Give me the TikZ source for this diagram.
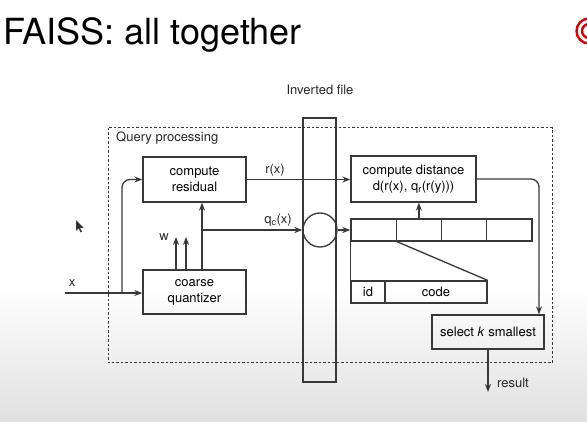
\documentclass[tikz,border=0pt]{standalone}
\usepackage{fontspec}
\setmainfont{TeX Gyre Heros}
\usetikzlibrary{arrows.meta}
\begin{document}
\begin{tikzpicture}
    [x=1pt,y=-1pt,
     line/.style={draw=black!78,line width=1.3pt},
     arr/.style={line,-{Stealth[length=8pt,width=6pt]}},
     box/.style={line,inner sep=0pt,align=center,
                 font=\fontsize{13}{16}\selectfont},
     cell/.style={line,minimum width=45.25pt,minimum height=22pt,inner sep=0pt},
     lbl/.style={inner sep=0pt,text=black!85,font=\fontsize{13}{16}\selectfont}]
    %page and background
    \clip (0,0) rectangle (587,422);
    \fill[white] (0,0) rectangle (587,422);
    \shade[top color=white,bottom color=black!12] (0,285) rectangle (587,422);

    %title and logo
    \node[anchor=base west,inner sep=0pt,font=\fontsize{36}{40}\selectfont] (title)
        at (3,45) {FAISS: all together};
    \draw[red!85!black,line width=2.4pt] (589,31) circle(12.5) circle(7);

    %mouse pointer
    \fill[black!80] (76,220) -- (76,231) -- (78.6,228.4) -- (80.6,232.4) -- (82,231.7)
        -- (80,227.8) -- (83.6,227.8) -- cycle;

    %query processing frame
    \draw[line,line width=1pt,dash pattern=on 2.5pt off 2pt] (108,128) rectangle (552,363);
    \node[lbl,anchor=west] (qp) at (116,138) {Query processing};

    %inverted file
    \node[line,minimum width=33pt,minimum height=264pt,inner sep=0pt] (inv) at (319.5,250) {};
    \node[lbl] (invlbl) at (320,90) {Inverted file};
    \node[line,circle,minimum size=34pt,inner sep=0pt] (circ) at (320,230) {};

    %boxes
    \node[box,minimum width=103pt,minimum height=45pt] (res) at (194.5,179.5) {compute\\residual};
    \node[box,minimum width=103pt,minimum height=44pt] (cq) at (194.5,292) {coarse\\quantizer};
    \node[box,minimum width=125pt,minimum height=46pt] (dist) at (413.5,179)
        {compute distance\\d(r(x), q\textsubscript{r}(r(y)))};
    \node[box,minimum width=112pt,minimum height=34pt] (sel) at (488,332)
        {select \textit{k} smallest};

    %inverted list and one entry
    \foreach \i in {1,...,4}
        \node[cell] (c\i) at ({351+45.25*(\i-0.5)},230) {};
    \node[box,minimum width=34pt,minimum height=22pt] (id) at (368,292) {id};
    \node[box,minimum width=102pt,minimum height=22pt] (code) at (436,292) {code};
    \draw[line] (c1.south west) -- (id.north west);
    \draw[line] (c1.south east) -- (code.north east);

    %input
    \coordinate (xin) at (65,293);
    \coordinate (br) at (122,293);
    \node[lbl] (xlbl) at (72,283) {x};
    \draw[arr] (xin) -- (xin -| cq.west);
    \draw[arr,rounded corners=8pt] (br) -- (br |- res.west) -- (res.west);

    %coarse quantizer outputs
    \coordinate (tap) at (202,230);
    \coordinate (w1) at (176,237);
    \coordinate (w2) at (186,237);
    \node[lbl] (wlbl) at (164,237) {w};
    \draw[arr] (w1 |- cq.north) -- (w1);
    \draw[arr] (w2 |- cq.north) -- (w2);
    \draw[arr] (tap |- cq.north) -- (tap |- res.south);
    \draw[arr] (tap) -- (circ.west);
    \node[lbl] (qclbl) at (278,220) {q\textsubscript{c}(x)};

    %residual to distance
    \draw[arr] (res.east) -- (res.east -| dist.west);
    \node[lbl] (rlbl) at (275,170) {r(x)};

    %list to distance
    \draw[arr] (circ.east) -- (c1.west);
    \draw[arr] (c2.north) -- (c2.north |- dist.south);

    %distance to selection and result
    \coordinate (turn) at (539,179);
    \draw[arr,rounded corners=8pt] (dist.east) -- (turn) -- (turn |- sel.north);
    \coordinate (out) at (488,392);
    \draw[arr] (sel.south) -- (out);
    \node[lbl,anchor=west] (outlbl) at (497,383) {result};
\end{tikzpicture}
\end{document}
